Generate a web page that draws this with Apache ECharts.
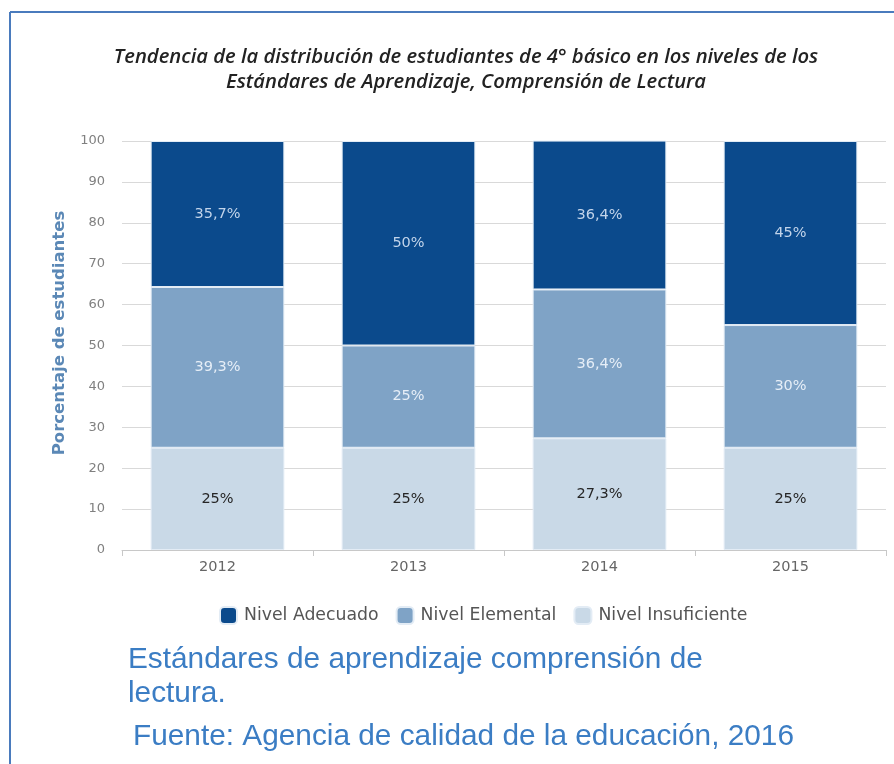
<!DOCTYPE html>
<html>
<head>
<meta charset="utf-8">
<script src="https://cdn.jsdelivr.net/npm/echarts@6/dist/echarts.min.js"></script>
<style>
html,body{margin:0;padding:0;background:#fff;}
#c{width:894px;height:764px;}
</style>
</head>
<body>
<div id="c"></div>
<script>
const years = ['2012', '2013', '2014', '2015'];
const adecuado = [35.7, 50, 36.4, 45];
const elemental = [39.3, 25, 36.4, 30];
const insuficiente = [25, 25, 27.3, 25];
const seriesNames = ['Nivel Adecuado', 'Nivel Elemental', 'Nivel Insuficiente'];
const yTicks = [0, 10, 20, 30, 40, 50, 60, 70, 80, 90, 100];
const titleLines = ['Tendencia de la distribución de estudiantes de 4° básico en los niveles de los', 'Estándares de Aprendizaje, Comprensión de Lectura'];
const yAxisName = 'Porcentaje de estudiantes';
const captionLines = ['Estándares de aprendizaje comprensión de', 'lectura.', 'Fuente: Agencia de calidad de la educación, 2016'];

const fmt = p => String(p.value).replace('.', ',') + '%';
const chart = echarts.init(document.getElementById('c'), null, {renderer: 'canvas'});

function barSeries(name, data, color, labelColor) {
  return {
    name: name, type: 'bar', stack: 'total', data: data, barWidth: '70%',
    itemStyle: {color: color, borderColor: '#e3ecf5', borderWidth: 1},
    label: {show: true, position: 'inside', formatter: fmt, color: labelColor,
      fontFamily: 'DejaVu Sans', fontSize: 14.5},
    emphasis: {disabled: true}
  };
}

chart.setOption({
  animation: false,
  backgroundColor: '#fff',
  grid: {left: 122, right: 8, top: 141, bottom: 214, containLabel: false},
  legend: {
    data: seriesNames, left: 214, top: 601, itemWidth: 17, itemHeight: 17, itemGap: 17,
    icon: 'roundRect',
    textStyle: {fontFamily: 'DejaVu Sans', fontSize: 17.3, color: '#555', padding: [0, 0, 0, 2]}
  },
  xAxis: {
    type: 'category', data: years,
    axisLine: {lineStyle: {color: '#c8c8c8'}},
    axisTick: {show: true, lineStyle: {color: '#c8c8c8'}, length: 6},
    axisLabel: {fontFamily: 'DejaVu Sans', fontSize: 14.5, color: '#666', margin: 10}
  },
  yAxis: {
    type: 'value', min: 0, max: 100, interval: 10,
    axisLine: {show: false}, axisTick: {show: false},
    axisLabel: {fontFamily: 'DejaVu Sans', fontSize: 13, color: '#808080', margin: 17,
      formatter: v => yTicks.includes(v) ? String(v) : ''},
    splitLine: {lineStyle: {color: '#d9d9d9'}}
  },
  series: [
    barSeries(seriesNames[2], insuficiente, '#c9d9e7', '#262626'),
    barSeries(seriesNames[1], elemental, '#7fa3c6', '#e6eef7'),
    barSeries(seriesNames[0], adecuado, '#0b4a8c', '#c2d4ea')
  ],
  graphic: [
    {type: 'line', shape: {x1: 10, y1: 12, x2: 894, y2: 12}, style: {stroke: '#4a7bbd', lineWidth: 2}},
    {type: 'line', shape: {x1: 10, y1: 12, x2: 10, y2: 764}, style: {stroke: '#4a7bbd', lineWidth: 2}},
    {type: 'text', x: 60, y: 333, rotation: Math.PI / 2, style: {text: yAxisName, textAlign: 'center', textVerticalAlign: 'middle',
      font: 'bold 16.5px "DejaVu Sans"', fill: '#5b88b6'}},
    {type: 'text', x: 466, y: 57, style: {text: titleLines[0], textAlign: 'center', textVerticalAlign: 'middle',
      font: 'italic 600 20.2px "Open Sans"', fill: '#222'}},
    {type: 'text', x: 466, y: 82, style: {text: titleLines[1], textAlign: 'center', textVerticalAlign: 'middle',
      font: 'italic 600 20.2px "Open Sans"', fill: '#222'}},
    {type: 'text', x: 128, y: 660, style: {text: captionLines[0], textAlign: 'left', textVerticalAlign: 'middle',
      font: '29.8px "Liberation Sans"', fill: '#3b7dc4'}},
    {type: 'text', x: 128, y: 694, style: {text: captionLines[1], textAlign: 'left', textVerticalAlign: 'middle',
      font: '29.8px "Liberation Sans"', fill: '#3b7dc4'}},
    {type: 'text', x: 133, y: 737, style: {text: captionLines[2], textAlign: 'left', textVerticalAlign: 'middle',
      font: '29.8px "Liberation Sans"', fill: '#3b7dc4'}}
  ]
});
</script>
</body>
</html>
